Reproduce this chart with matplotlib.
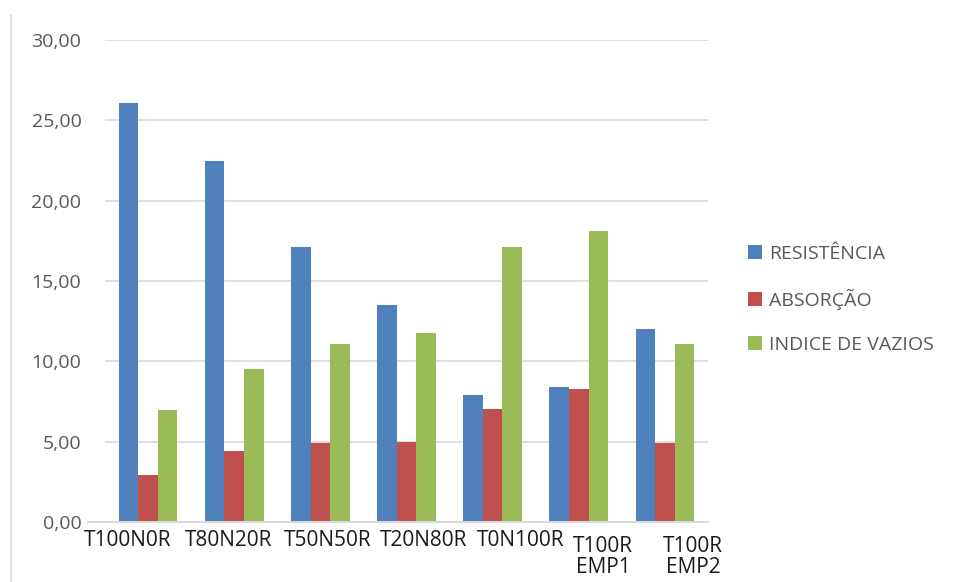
import numpy as np
import matplotlib
matplotlib.use("Agg")
import matplotlib.pyplot as plt
from matplotlib.lines import Line2D

plt.rcParams['font.family'] = ['Open Sans', 'DejaVu Sans']

categories = ["T100N0R", "T80N20R", "T50N50R", "T20N80R", "T0N100R",
              "T100R\nEMP1", "T100R\nEMP2"]
resistencia = [26.05, 22.45, 17.10, 13.50, 7.90, 8.40, 12.00]
absorcao = [2.90, 4.40, 4.90, 5.00, 7.05, 8.30, 4.90]
indice_vazios = [7.00, 9.50, 11.10, 11.75, 17.10, 18.10, 11.10]

series_names = ["RESISTÊNCIA", "ABSORÇÃO", "INDICE DE VAZIOS"]
colors = ["#4F81BD", "#C0504D", "#9BBB59"]
yticks = [0, 5, 10, 15, 20, 25, 30]

W, H = 956, 582
fig = plt.figure(figsize=(W / 100, H / 100), dpi=100)
fig.patch.set_facecolor("white")

# plot area in pixels: x 105..708, y 40..522 (from top)
ax = fig.add_axes([105 / W, (H - 522) / H, 603 / W, 482 / H])

x = np.arange(len(categories))
bw = 0.227
for i, (vals, c, name) in enumerate(zip([resistencia, absorcao, indice_vazios],
                                          colors, series_names)):
    ax.bar(x + (i - 1) * bw, vals, width=bw, color=c, label=name, zorder=3)

ax.set_xlim(-0.5, len(categories) - 0.5)
ax.set_ylim(0, 30)
ax.set_yticks(yticks)
ax.set_yticklabels([f"{v:.2f}".replace(".", ",") for v in yticks],
                   fontsize=14, color="#595959")
ax.tick_params(axis="y", length=0, pad=17)
ax.grid(axis="y", color="#D9D9D9", linewidth=1.2, zorder=0)
for s in ax.spines.values():
    s.set_visible(False)

# category labels, placed slightly off the group centres
label_offsets = [-0.24, -0.07, 0.09, 0.20, 0.33, 0.28, 0.33]
ax.set_xticks([])
for xi, off, lab in zip(x, label_offsets, categories):
    two_lines = "\n" in lab
    ax.annotate(lab, xy=(xi + off, 0), xycoords=("data", "data"),
                xytext=(0, -14 if two_lines else -8), textcoords="offset pixels",
                ha="center", va="top", fontsize=15, color="#1a1a1a",
                linespacing=1.0, annotation_clip=False)

# baseline, extended slightly left of the plot area
fig.add_artist(Line2D([88 / W, 708 / W], [(H - 522) / H] * 2,
                      color="#D9D9D9", linewidth=1.5))
# chart border on the left
fig.add_artist(Line2D([11 / W, 11 / W], [0, (H - 15) / H],
                      color="#D9D9D9", linewidth=1.2))

leg = fig.legend(loc="upper left", bbox_to_anchor=(748 / W, (H - 245) / H),
                 frameon=False, fontsize=14, handlelength=0.7, handleheight=0.7,
                 handletextpad=0.4, labelspacing=1.33, borderpad=0,
                 borderaxespad=0)
for t in leg.get_texts():
    t.set_color("#595959")

fig.savefig("out.png", dpi=100)
